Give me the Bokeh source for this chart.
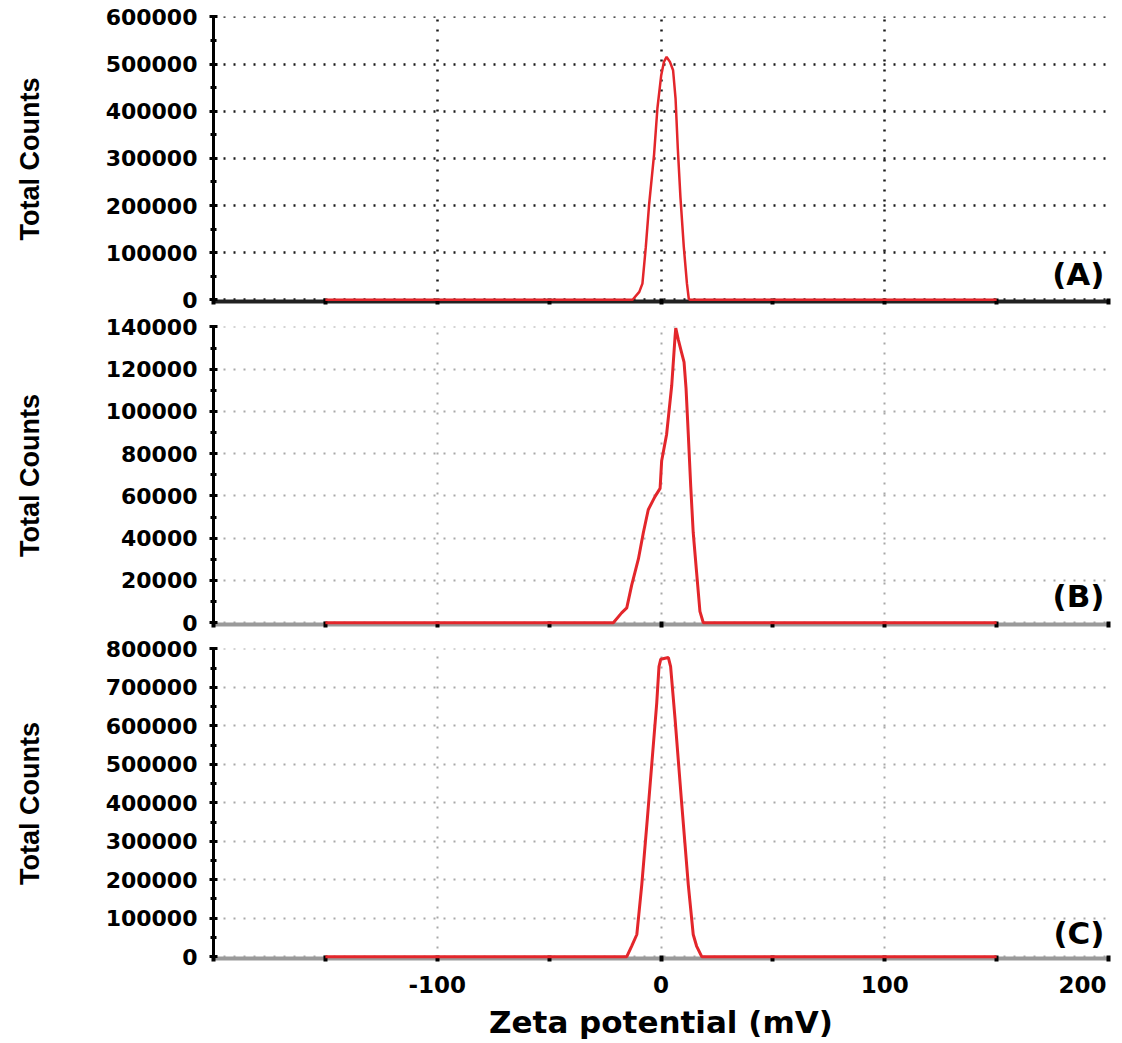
from bokeh.plotting import figure
from bokeh.layouts import column
from bokeh.models import SingleIntervalTicker, FixedTicker, BasicTickFormatter, Label, Range1d
from bokeh.embed import file_html
from bokeh.resources import INLINE

# ---------------- data ----------------
zeta_a = [-150, -12.7, -9.7, -8.3, -6.8, -5.3, -3.1, -1.6, 0.1, 1.3, 2.5, 4.0, 5.4, 6.5, 7.5, 8.7,
          10.2, 11.6, 12.4, 12.8, 150]
counts_a = [0, 0, 16800, 34300, 111600, 202800, 308000, 406300, 476400, 504600, 515100, 504600,
            486900, 427400, 322100, 216800, 111600, 34300, 2800, 0, 0]

zeta_b = [-150, -21.3, -17.6, -15.3, -13.1, -10.1, -7.9, -5.7, -2.7, -0.4, 0.3, 2.5, 4.8, 6.3, 6.6,
          7.7, 9.2, 10.3, 11.2, 12.2, 13.3, 14.4, 15.9, 17.4, 18.9, 150]
counts_b = [0, 0, 4650, 7000, 17800, 30200, 42600, 53500, 59700, 63600, 76700, 89100, 112400,
            135700, 139500, 134100, 127900, 123300, 110800, 89100, 64300, 42600, 24000, 5400, 0, 0]

zeta_c = [-150, -15.3, -13.1, -10.8, -8.6, -6.1, -3.7, -1.9, -0.9, -0.1, 1.8, 3.3, 4.3, 6.3, 9.2,
          12.2, 14.4, 15.9, 18.2, 150]
counts_c = [0, 0, 27600, 57600, 186600, 358700, 530800, 659900, 754300, 773300, 776000, 777600,
            754300, 616800, 401800, 186600, 57600, 27600, 0, 0]

panel_names = ["(A)", "(B)", "(C)"]
y_max = [600000, 140000, 800000]
y_step = [100000, 20000, 100000]
x_major_ticks = [-200, -100, 0, 100, 200]
x_minor_ticks = [-150, -50, 50, 150]
x_all_ticks = [-200, -150, -100, -50, 0, 50, 100, 150, 200]
x_grid_ticks = [-100, 0, 100, 200]
NB = "\u00a0"
x_label_text = {-200: "", -100: "-100", 0: "0", 100: "100", 200: "200" + NB * 2}

RED = "#e3262b"
BOLD_FONT = "DejaVu Sans"
LABEL_FONT = "Liberation Sans"

x_range = Range1d(-200, 200)


def make_panel(height, ymax, ystep, btop, bbottom, grid_color, grid_width, base_color,
               bottom_axis_labels):
    p = figure(width=1122, height=height, x_range=x_range,
               y_range=Range1d(-ymax * 0.006, ymax * 1.0015),
               output_backend="svg", toolbar_location=None,
               min_border_left=213, min_border_right=14,
               min_border_top=btop, min_border_bottom=bbottom)
    p.outline_line_color = None
    p.background_fill_color = "white"

    # y axis
    p.yaxis.ticker = SingleIntervalTicker(interval=ystep, num_minor_ticks=2)
    p.yaxis.formatter = BasicTickFormatter(use_scientific=False)
    p.yaxis.axis_line_color = "black"
    p.yaxis.axis_line_width = 3
    p.yaxis.major_tick_line_color = "black"
    p.yaxis.major_tick_line_width = 3
    p.yaxis.major_tick_in = 4
    p.yaxis.major_tick_out = 4
    p.yaxis.minor_tick_line_color = "black"
    p.yaxis.minor_tick_line_width = 3
    p.yaxis.minor_tick_in = 3
    p.yaxis.minor_tick_out = 3
    p.yaxis.major_label_text_font = BOLD_FONT
    p.yaxis.major_label_text_font_style = "bold"
    p.yaxis.major_label_text_font_size = "22px"
    p.yaxis.major_label_text_color = "black"
    p.yaxis.major_label_standoff = 12
    p.yaxis.axis_label = "Total Counts"
    p.yaxis.axis_label_text_font = LABEL_FONT
    p.yaxis.axis_label_text_font_style = "bold"
    p.yaxis.axis_label_text_font_size = "27px"
    p.yaxis.axis_label_text_color = "black"
    p.yaxis.axis_label_standoff = 58

    # x axis (the baseline with its tick dots)
    if bottom_axis_labels:
        p.xaxis.ticker = FixedTicker(ticks=x_major_ticks, minor_ticks=x_minor_ticks)
    else:
        p.xaxis.ticker = FixedTicker(ticks=[], minor_ticks=x_all_ticks)
    p.xaxis.axis_line_color = base_color
    p.xaxis.axis_line_width = 4
    p.xaxis.major_tick_line_color = "black"
    p.xaxis.major_tick_line_width = 4
    p.xaxis.major_tick_in = 3
    p.xaxis.major_tick_out = 3
    p.xaxis.minor_tick_line_color = "black"
    p.xaxis.minor_tick_line_width = 4
    p.xaxis.minor_tick_in = 3
    p.xaxis.minor_tick_out = 3

    # grids
    p.xgrid.ticker = FixedTicker(ticks=x_grid_ticks)
    for g in (p.xgrid, p.ygrid):
        g.grid_line_color = grid_color
        g.grid_line_width = grid_width
        g.grid_line_dash = "2 8"
    return p


pa = make_panel(313, y_max[0], y_step[0], 16, 12, "#1a1a1a", 2.5, "#222222", False)
pb = make_panel(322, y_max[1], y_step[1], 13, 11, "#a8a8a8", 2, "#9a9a9a", False)
pc = make_panel(407, y_max[2], y_step[2], 13, 84, "#a8a8a8", 2, "#9a9a9a", True)

pa.line(zeta_a, counts_a, line_color=RED, line_width=2.5, level="overlay")
pb.line(zeta_b, counts_b, line_color=RED, line_width=3, level="overlay")
pc.line(zeta_c, counts_c, line_color=RED, line_width=3, level="overlay")

pc.xaxis.major_label_overrides = x_label_text
pc.xaxis.major_label_text_font = BOLD_FONT
pc.xaxis.major_label_text_font_style = "bold"
pc.xaxis.major_label_text_font_size = "23px"
pc.xaxis.major_label_text_color = "black"
pc.xaxis.major_label_standoff = 10
pc.xaxis.axis_label = "Zeta potential (mV)"
pc.xaxis.axis_label_text_font = BOLD_FONT
pc.xaxis.axis_label_text_font_style = "bold"
pc.xaxis.axis_label_text_font_size = "31px"
pc.xaxis.axis_label_text_color = "black"
pc.xaxis.axis_label_standoff = 3

label_y = [17000, 4200, 15800]
for p, name, ly in zip((pa, pb, pc), panel_names, label_y):
    p.add_layout(Label(x=200, y=ly, x_offset=-4, text=name, text_align="right",
                       text_baseline="bottom", text_font=BOLD_FONT, text_font_style="bold",
                       text_font_size="31px", text_color="black"))

layout = column(pa, pb, pc, spacing=0)
open("out.html", "w").write(file_html(layout, INLINE))
